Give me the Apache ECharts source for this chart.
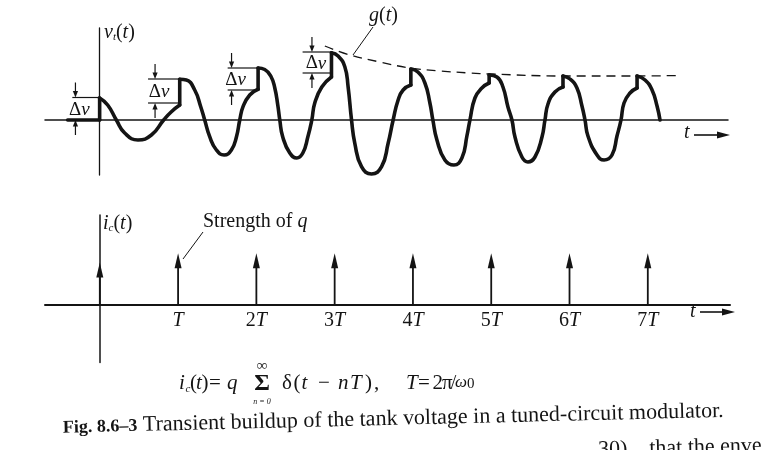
<!DOCTYPE html>
<html><head><meta charset="utf-8">
<script src="https://cdn.jsdelivr.net/npm/echarts@6/dist/echarts.min.js"></script>
<style>html,body{margin:0;padding:0;background:#fff}#c{width:771px;height:450px}</style>
</head><body><div id="c"></div>
<script>
// ---------- data (t in units of T, v in units of 0.1 div, i in units of q) ----------
const preZero = [[-0.41, 0], [0, 0]];
const cycle0 = [[0,2.2],[0.103,1.5],[0.214,0],[0.321,-1.3],[0.491,-2.0],[0.663,-1.5],[0.82,0],[0.919,0.83],[1.026,1.5]];
const cycle1 = [[1.026,4.07],[1.111,4.0],[1.218,3.0],[1.295,1.33],[1.346,0],[1.41,-1.67],[1.496,-3.0],[1.594,-3.5],[1.688,-3.0],[1.753,-1.67],[1.795,0],[1.837,1.33],[1.923,2.5],[2.03,3.07]];
const cycle2 = [[2.03,5.2],[2.115,5.05],[2.192,4.4],[2.244,3.2],[2.282,1.5],[2.308,0],[2.346,-1.7],[2.436,-3.3],[2.526,-3.8],[2.603,-3.3],[2.667,-1.7],[2.718,0],[2.756,1.7],[2.846,3.3],[2.97,4.3]];
const cycle3 = [[2.97,6.73],[3.055,6.4],[3.141,5.33],[3.183,3.33],[3.227,0],[3.269,-2.33],[3.355,-4.67],[3.483,-5.4],[3.612,-4.67],[3.696,-2.33],[3.76,0],[3.824,2.0],[3.888,3.0],[3.987,3.5]];
const cycle4 = [[3.987,5.1],[4.077,4.8],[4.167,3.7],[4.231,1.7],[4.269,0],[4.321,-2.0],[4.423,-4.0],[4.538,-4.5],[4.641,-3.8],[4.705,-1.6],[4.744,0],[4.808,2.2],[4.897,3.2],[4.99,3.7]];
const cycle5 = [[4.99,4.5],[5.09,4.3],[5.167,3.3],[5.231,1.3],[5.282,0],[5.321,-1.7],[5.41,-3.7],[5.487,-4.2],[5.577,-3.7],[5.667,-1.7],[5.705,0],[5.744,1.6],[5.833,2.8],[5.936,3.3]];
const cycle6 = [[5.936,4.4],[6.026,4.1],[6.115,3.2],[6.179,1.4],[6.218,0],[6.256,-1.6],[6.372,-3.5],[6.462,-4.0],[6.564,-3.5],[6.628,-1.6],[6.679,0],[6.718,1.7],[6.795,2.7],[6.885,3.2]];
const cycle7 = [[6.885,4.4],[6.987,4.0],[7.077,3.0],[7.141,1.4],[7.179,0]];
const jumps = [[0,0,2.2],[1.026,1.5,4.07],[2.03,3.07,5.2],[2.97,4.3,6.73],[3.987,3.5,5.1],[4.99,3.7,4.5],[5.936,3.3,4.4],[6.885,3.2,4.4]];
const envelope = [[2.885,7.4],[3.205,6.5],[3.59,5.8],[3.974,5.2],[4.359,4.9],[4.744,4.7],[5.0,4.6],[5.936,4.4],[6.885,4.4],[7.41,4.45]];
const deltaT = [0, 1.026, 2.03, 2.97];
const deltaLow = [0, 1.7, 3.0, 4.7];
const deltaHigh = [2.25, 4.1, 5.2, 6.8];
const deltaLeft = [-0.35, 0.62, 1.64, 2.6];
const deltaArrow = [-0.31, 0.71, 1.69, 2.72];
const impulseT = [0, 1, 2, 3, 4, 5, 6, 7];
const impulseH = [0.82, 1, 1, 1, 1, 1, 1, 1];
const tickValues = [1, 2, 3, 4, 5, 6, 7];
const tickLabels = ['T', '2T', '3T', '4T', '5T', '6T', '7T'];

// ---------- styling ----------
const SERIF = '"Liberation Serif","DejaVu Serif",serif';
const INK = '#141414';
function rs(size, italic, extra) {
  return Object.assign({fontFamily: SERIF, fontSize: size, fontStyle: italic ? 'italic' : 'normal', color: INK, fill: INK}, extra || {});
}
const rich20 = {
  i: rs(20, true), r: rs(20, false),
  s: rs(11, true, {verticalAlign: 'bottom'})
};

const waveStyle = {color: INK, width: 3.6, cap: 'round', join: 'round'};
const cycles = [cycle0, cycle1, cycle2, cycle3, cycle4, cycle5, cycle6, cycle7];

const series = [];
series.push({type: 'line', xAxisIndex: 0, yAxisIndex: 0, data: preZero, showSymbol: false,
  lineStyle: waveStyle, z: 5, silent: true});
cycles.forEach(c => series.push({type: 'line', xAxisIndex: 0, yAxisIndex: 0, data: c,
  smooth: 0.5, showSymbol: false, lineStyle: waveStyle, z: 5, silent: true}));
series.push({type: 'custom', xAxisIndex: 0, yAxisIndex: 0, data: jumps, encode: {x: 0, y: [1, 2]}, z: 6, silent: true,
  renderItem: (p, api) => {
    const a = api.coord([api.value(0), api.value(1)]);
    const b = api.coord([api.value(0), api.value(2)]);
    return {type: 'line', shape: {x1: a[0], y1: a[1], x2: b[0], y2: b[1]},
      style: {stroke: INK, lineWidth: 3.6, lineCap: 'round'}};
  }});
series.push({type: 'line', xAxisIndex: 0, yAxisIndex: 0, data: envelope, smooth: 0.4, showSymbol: false,
  lineStyle: {color: INK, width: 1.3, type: [9, 6]}, z: 4, silent: true});
series.push({type: 'custom', xAxisIndex: 0, yAxisIndex: 0, silent: true, z: 7,
  data: deltaT.map((t, k) => [t, deltaLow[k], deltaHigh[k], deltaLeft[k], deltaArrow[k]]),
  encode: {x: [0, 3, 4], y: [1, 2]},
  renderItem: (p, api) => {
    const t = api.value(0), lo = api.value(1), hi = api.value(2), left = api.value(3), ax = api.value(4);
    const hL = api.coord([left, hi]), hR = api.coord([t, hi]);
    const lL = api.coord([left, lo]), lR = api.coord([t, lo]);
    const x = api.coord([ax, 0])[0];
    const yH = hL[1], yL = lL[1];
    const st = {stroke: INK, lineWidth: 1.2};
    return {type: 'group', children: [
      {type: 'line', shape: {x1: hL[0], y1: yH, x2: hR[0], y2: yH}, style: st},
      {type: 'line', shape: {x1: lL[0], y1: yL, x2: lR[0], y2: yL}, style: st},
      {type: 'line', shape: {x1: x, y1: yH - 15, x2: x, y2: yH - 4}, style: st},
      {type: 'polygon', shape: {points: [[x, yH], [x - 2.6, yH - 6.5], [x + 2.6, yH - 6.5]]}, style: {fill: INK}},
      {type: 'line', shape: {x1: x, y1: yL + 15, x2: x, y2: yL + 4}, style: st},
      {type: 'polygon', shape: {points: [[x, yL], [x - 2.6, yL + 6.5], [x + 2.6, yL + 6.5]]}, style: {fill: INK}},
      {type: 'text', x: x + 4, y: (yH + yL) / 2 + 1, style: {text: '{a|Δ}{b|v}',
        rich: {a: rs(19, false), b: rs(19, true)},
        align: 'center', verticalAlign: 'middle', textAlign: 'center', textVerticalAlign: 'middle'}}
    ]};
  }});
series.push({type: 'custom', xAxisIndex: 1, yAxisIndex: 1, silent: true, z: 5,
  data: impulseT.map((t, k) => [t, impulseH[k]]), encode: {x: 0, y: 1},
  renderItem: (p, api) => {
    const t = api.value(0), h = api.value(1);
    const a = api.coord([t, 0]), b = api.coord([t, h]);
    return {type: 'group', children: [
      {type: 'line', shape: {x1: a[0], y1: a[1], x2: b[0], y2: b[1] + 12}, style: {stroke: INK, lineWidth: 1.8}},
      {type: 'polygon', shape: {points: [[b[0], b[1]], [b[0] - 3.5, b[1] + 15], [b[0] + 3.5, b[1] + 15]]}, style: {fill: INK}}
    ]};
  }});
// tick labels T, 2T, ... placed through the bottom axis scale
series.push({type: 'custom', xAxisIndex: 1, yAxisIndex: 1, silent: true, z: 5,
  data: tickValues.map(v => [v, 0]), encode: {x: 0, y: 1},
  renderItem: (p, api) => {
    const a = api.coord([api.value(0), 0]);
    const s = tickLabels[p.dataIndex];
    const num = s.slice(0, -1);
    return {type: 'text', x: a[0], y: a[1] + 16, style: {
      text: (num ? '{r|' + num + '}' : '') + '{i|T}', rich: rich20,
      align: 'center', verticalAlign: 'middle', textAlign: 'center', textVerticalAlign: 'middle'}};
  }});

const hidden = {axisTick: {show: false}, axisLabel: {show: false}, splitLine: {show: false}};
const option = {
  backgroundColor: '#ffffff',
  animation: false,
  grid: [
    {left: 45, right: 43, top: 28, bottom: 275},
    {left: 45, right: 41, top: 215, bottom: 87.6}
  ],
  xAxis: [
    Object.assign({type: 'value', gridIndex: 0, min: -0.7, max: 8.05,
      axisLine: {onZero: true, lineStyle: {color: INK, width: 1.5}}}, hidden),
    Object.assign({type: 'value', gridIndex: 1, min: -0.7, max: 8.05,
      axisLine: {onZero: true, lineStyle: {color: INK, width: 2}}}, hidden)
  ],
  yAxis: [
    Object.assign({type: 'value', gridIndex: 0, min: -5.5, max: 9.2,
      axisLine: {show: true, onZero: true, lineStyle: {color: INK, width: 1.3}}}, hidden),
    Object.assign({type: 'value', gridIndex: 1, min: -1.14, max: 1.75,
      axisLine: {show: true, onZero: true, lineStyle: {color: INK, width: 1.5}}}, hidden)
  ],
  series: series
};

// ---------- annotation text ----------
function txt(x, y, text, font, extra) {
  return {type: 'text', x: x, y: y, style: Object.assign({text: text, font: font, fill: INK,
    verticalAlign: 'middle', textVerticalAlign: 'middle'}, extra || {})};
}
function rtxt(x, y, text) {
  return {type: 'text', x: x, y: y, style: {text: text, rich: rich20, verticalAlign: 'middle', textVerticalAlign: 'middle'}};
}
const F = 21;
const IT = 'italic ' + F + 'px ' + SERIF, RM = F + 'px ' + SERIF;
const mid = {align: 'center', textAlign: 'center'};
const fy = 383;
const formula = [
  txt(179, fy, 'i', IT), txt(185.5, fy + 6, 'c', 'italic 11px ' + SERIF),
  txt(190, fy, '(', RM), txt(196, fy, 't', IT), txt(201.5, fy, ')', RM),
  txt(215, fy, '=', RM, mid), txt(227, fy, 'q', IT),
  txt(262, fy + 1, 'Σ', 'bold 24px ' + SERIF, mid),
  txt(262, 366, '∞', 'bold 15px ' + SERIF, mid),
  txt(262, 402, 'n = 0', 'italic 8px ' + SERIF, mid),
  txt(282, fy, 'δ', RM), txt(293.5, fy, '(', RM), txt(301.5, fy, 't', IT),
  txt(324, fy, '−', RM, mid), txt(338, fy, 'n', IT), txt(350, fy, 'T', IT),
  txt(365, fy, ')', RM), txt(374, fy, ',', RM),
  txt(406, fy, 'T', IT), txt(424, fy, '=', RM, mid), txt(432.5, fy, '2', RM),
  txt(442, fy, 'π', RM), txt(451, fy, '/', '19px ' + SERIF), txt(455, fy, 'ω', 'italic 17px ' + SERIF),
  txt(467, fy + 1, '0', '15px ' + SERIF)
];
option.graphic = [
  rtxt(104, 33, '{i|v}{s|t}{r|(}{i|t}{r|)}'),
  rtxt(369, 16, '{i|g}{r|(}{i|t}{r|)}'),
  {type: 'line', shape: {x1: 373, y1: 27, x2: 353, y2: 55}, style: {stroke: INK, lineWidth: 1}},
  rtxt(684, 133, '{i|t}'),
  {type: 'line', shape: {x1: 694, y1: 135, x2: 720, y2: 135}, style: {stroke: INK, lineWidth: 1.6}},
  {type: 'polygon', shape: {points: [[730, 135], [717, 131.5], [717, 138.5]]}, style: {fill: INK}},
  rtxt(103, 224, '{i|i}{s|c}{r|(}{i|t}{r|)}'),
  rtxt(203, 222, '{r|Strength of }{i|q}'),
  {type: 'line', shape: {x1: 203, y1: 232, x2: 183, y2: 259}, style: {stroke: INK, lineWidth: 1}},
  rtxt(690, 312, '{i|t}'),
  {type: 'line', shape: {x1: 700, y1: 312, x2: 725, y2: 312}, style: {stroke: INK, lineWidth: 1.6}},
  {type: 'polygon', shape: {points: [[735, 312], [722, 308.5], [722, 315.5]]}, style: {fill: INK}}
].concat(formula).concat([
  {type: 'group', x: 63, y: 428, rotation: 0.024, children: [
    txt(0, 0, 'Fig. 8.6–3', 'bold 18px ' + SERIF),
    txt(80, -1, 'Transient buildup of the tank voltage in a tuned-circuit modulator.', '22px ' + SERIF)
  ]},
  {type: 'group', x: 598, y: 450, rotation: 0.024, children: [
    txt(0, 0, '30)    that the enve', '22px ' + SERIF)
  ]}
]);

const chart = echarts.init(document.getElementById('c'));
chart.setOption(option);
</script>
</body></html>
